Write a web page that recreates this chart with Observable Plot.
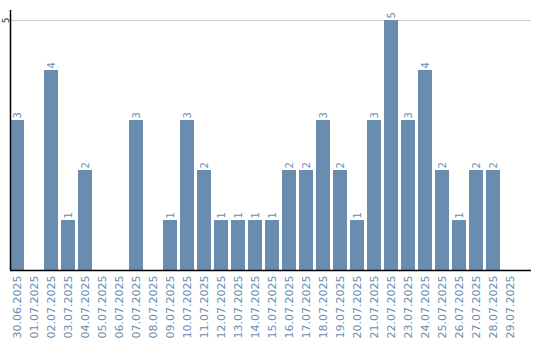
<!DOCTYPE html>
<html><head><meta charset="utf-8">
<script src="https://cdn.jsdelivr.net/npm/d3@7"></script>
<script src="https://cdn.jsdelivr.net/npm/@observablehq/plot@0.6"></script>
<style>body{margin:0;background:#fff;font-family:"DejaVu Sans",sans-serif}</style>
</head><body><div id="chart"></div>
<script>
const dates = ["30.06.2025","01.07.2025","02.07.2025","03.07.2025","04.07.2025","05.07.2025","06.07.2025","07.07.2025","08.07.2025","09.07.2025","10.07.2025","11.07.2025","12.07.2025","13.07.2025","14.07.2025","15.07.2025","16.07.2025","17.07.2025","18.07.2025","19.07.2025","20.07.2025","21.07.2025","22.07.2025","23.07.2025","24.07.2025","25.07.2025","26.07.2025","27.07.2025","28.07.2025","29.07.2025"];
const counts = [3,0,4,1,2,0,0,3,0,1,3,2,1,1,1,1,2,2,3,2,1,3,5,3,4,2,1,2,2,0];
const yTicks = [5];
const barColor = "#6a8caf";
const data = dates.map((d,i)=>({date:d, value:counts[i]}));
// left axis line drawn from the plot frame dimensions
const leftLine = (index, scales, values, dim) => {
  const g = d3.create("svg:line")
    .attr("x1", dim.marginLeft + 0.5).attr("x2", dim.marginLeft + 0.5)
    .attr("y1", dim.marginTop).attr("y2", dim.height - dim.marginBottom)
    .attr("stroke", "#000").attr("stroke-width", 1.5);
  return g.node();
};
const chart = Plot.plot({
  width: 540, height: 340,
  marginLeft: 10, marginRight: 9, marginTop: 10, marginBottom: 70,
  style: {fontFamily: "DejaVu Sans, sans-serif", background: "#fff"},
  x: {domain: dates, range: [10, 517], paddingInner: 3/17, paddingOuter: 0, label: null},
  y: {domain: [0, 5.2], label: null},
  marks: [
    Plot.ruleY(yTicks, {stroke: "#ccc", strokeWidth: 1}),
    Plot.barY(data, {x: "date", y: "value", fill: barColor}),
    Plot.text(data.filter(d=>d.value>0), {x: "date", y: "value", text: d=>String(d.value), rotate: -90, textAnchor: "start", dy: -2, fill: barColor, fontSize: 10}),
    Plot.axisX({tickSize: 0, tickRotate: -90, tickPadding: 5, fontSize: 11, color: barColor, label: null}),
    Plot.axisY(yTicks, {tickSize: 0, tickRotate: -90, tickPadding: 2, fontSize: 9, color: "#333", label: null, tickFormat: d3.format("d")}),
    leftLine,
    Plot.ruleY([0], {stroke: "#000", strokeWidth: 1.5})
  ]
});
document.getElementById("chart").appendChild(chart);
</script></body></html>
